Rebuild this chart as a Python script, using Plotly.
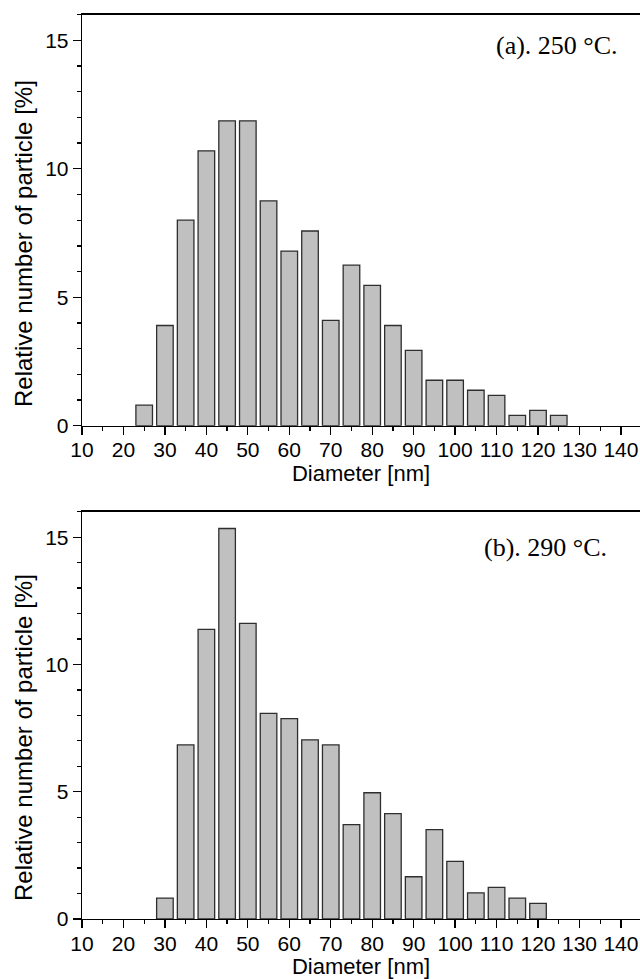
import plotly.graph_objects as go

# ---- data ----
diam_a = [25, 30, 35, 40, 45, 50, 55, 60, 65, 70, 75, 80, 85, 90, 95, 100, 105, 110, 115, 120, 125]
rel_a = [0.8, 3.9, 8.0, 10.7, 11.87, 11.87, 8.75, 6.8, 7.58, 4.1, 6.25, 5.46, 3.9, 2.93, 1.77, 1.77, 1.38, 1.18, 0.4, 0.6, 0.4]

diam_b = [30, 35, 40, 45, 50, 55, 60, 65, 70, 75, 80, 85, 90, 95, 100, 105, 110, 115, 120]
rel_b = [0.82, 6.84, 11.38, 15.34, 11.61, 8.08, 7.87, 7.04, 6.84, 3.71, 4.96, 4.14, 1.66, 3.51, 2.26, 1.03, 1.24, 0.82, 0.61]

x_ticks = [10, 20, 30, 40, 50, 60, 70, 80, 90, 100, 110, 120, 130, 140]
y_ticks = [0, 5, 10, 15]
label_a = "(a). 250 °C."
label_b = "(b). 290 °C."
x_title = "Diameter [nm]"
y_title = "Relative number of particle [%]"

W, H = 640, 979
BAR_FILL = "#c0c0c0"
BAR_LINE = "#2e2e2e"
AX = "#000000"
SANS = "Liberation Sans, Arial, sans-serif"
SERIF = "Liberation Serif, Times New Roman, serif"

fig = go.Figure()
fig.add_trace(go.Bar(x=diam_a, y=rel_a, width=4, xaxis="x", yaxis="y",
                     marker=dict(color=BAR_FILL, line=dict(color=BAR_LINE, width=1.3)),
                     showlegend=False, hoverinfo="skip"))
fig.add_trace(go.Bar(x=diam_b, y=rel_b, width=4, xaxis="x2", yaxis="y2",
                     marker=dict(color=BAR_FILL, line=dict(color=BAR_LINE, width=1.3)),
                     showlegend=False, hoverinfo="skip"))

xdom = [82 / W, 1.0]
top_dom = [(H - 425.7) / H, (H - 14.7) / H]
bot_dom = [(H - 919) / H, (H - 511.7) / H]

def xaxis_cfg(anchor):
    return dict(
        domain=xdom, anchor=anchor, range=[10, 144.6], automargin=False,
        tickmode="array", tickvals=x_ticks, ticktext=[str(v) for v in x_ticks],
        ticks="outside", ticklen=8, tickwidth=1.3, tickcolor=AX,
        ticklabelstandoff=-3,
        minor=dict(dtick=5, tick0=10, ticks="outside", ticklen=4, tickwidth=1.3, tickcolor=AX),
        showline=True, linecolor=AX, linewidth=1.3, mirror=True,
        showgrid=False, zeroline=False,
        tickfont=dict(family=SANS, size=21, color="#000"),
        title=dict(text=x_title, font=dict(family=SANS, size=22, color="#000"), standoff=0),
    )

def yaxis_cfg(anchor, dom):
    return dict(
        domain=dom, anchor=anchor, range=[0, 16], automargin=False,
        tickmode="array", tickvals=y_ticks, ticktext=[str(v) for v in y_ticks],
        ticks="outside", ticklen=8, tickwidth=1.3, tickcolor=AX,
        minor=dict(dtick=1, tick0=0, ticks="outside", ticklen=4, tickwidth=1.3, tickcolor=AX),
        showline=True, linecolor=AX, linewidth=1.3, mirror=False,
        showgrid=False, zeroline=False,
        tickfont=dict(family=SANS, size=21, color="#000"),
    )

fig.update_layout(
    width=W, height=H,
    margin=dict(l=0, r=0, t=0, b=0, autoexpand=False),
    paper_bgcolor="white", plot_bgcolor="white",
    bargap=0,
    xaxis=xaxis_cfg("y"), yaxis=yaxis_cfg("x", top_dom),
    xaxis2=xaxis_cfg("y2"), yaxis2=yaxis_cfg("x2", bot_dom),
    annotations=[
        dict(text=y_title, textangle=-90, x=23 / W, y=(H - 244) / H, xref="paper", yref="paper",
             xanchor="center", yanchor="middle", showarrow=False,
             font=dict(family=SANS, size=24, color="#000")),
        dict(text=y_title, textangle=-90, x=23 / W, y=(H - 738) / H, xref="paper", yref="paper",
             xanchor="center", yanchor="middle", showarrow=False,
             font=dict(family=SANS, size=24, color="#000")),
        dict(text=label_a, x=620 / W, y=(H - 46) / H, xref="paper", yref="paper",
             xanchor="right", yanchor="middle", showarrow=False,
             font=dict(family=SERIF, size=26, color="#000")),
        dict(text=label_b, x=609 / W, y=(H - 547.5) / H, xref="paper", yref="paper",
             xanchor="right", yanchor="middle", showarrow=False,
             font=dict(family=SERIF, size=26, color="#000")),
    ],
)

fig.write_html(
    "out.html",
    config={"displayModeBar": False, "staticPlot": True},
    post_script="document.body.style.margin='0';document.body.style.overflow='hidden';",
)
